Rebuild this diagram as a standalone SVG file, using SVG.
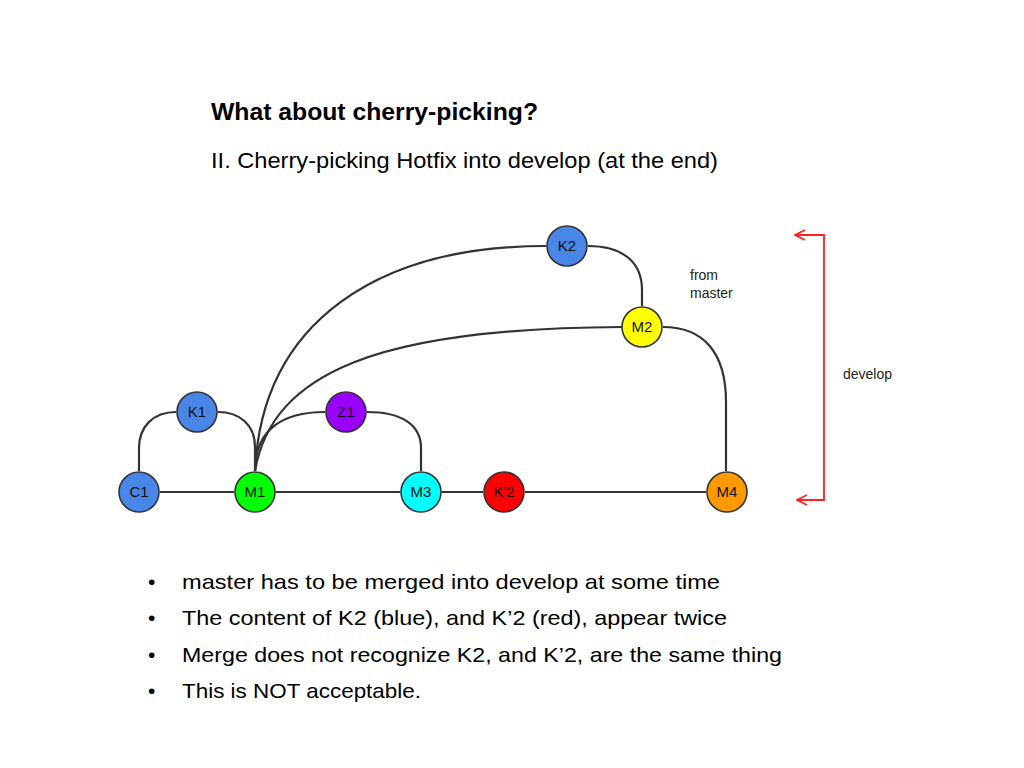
<svg xmlns="http://www.w3.org/2000/svg" width="1024" height="768" viewBox="0 0 1024 768">
<defs>
<style>
.n{stroke:#333;stroke-width:1.6}
.lbl{font-family:"Liberation Sans",Arial,sans-serif;font-size:15px;fill:#111;text-anchor:middle}
.e{fill:none;stroke:#333;stroke-width:2.2}
.t{font-family:"Liberation Sans",Arial,sans-serif;fill:#000}
.note{font-family:"Liberation Sans",Arial,sans-serif;font-size:14px;fill:#222}
.br{fill:none;stroke:#ff2020;stroke-width:1.8}
</style>
<marker id="ah" viewBox="0 0 12 12" refX="11" refY="6" markerWidth="12" markerHeight="12" markerUnits="userSpaceOnUse" orient="auto-start-reverse">
<path d="M1,1 L11,6 L1,11" fill="none" stroke="#ff2020" stroke-width="1.8"/>
</marker>
</defs>
<rect width="1024" height="768" fill="#fff"/>
<g id="title">
<text class="t" x="211" y="120" font-size="23" font-weight="bold" textLength="327" lengthAdjust="spacingAndGlyphs">What about cherry-picking?</text>
<text class="t" x="211" y="168" font-size="22" textLength="507" lengthAdjust="spacingAndGlyphs">II. Cherry-picking Hotfix into develop (at the end)</text>
</g>
<g id="connectors">
<path class="e" d="M160,492 H234 M276,492 H400 M442,492 H483 M525,492 H706"/>
<path class="e" d="M139,471 V448 C139,427 153,412 176,412"/>
<path class="e" d="M218,412 C240,412 255,425 255,447 V471"/>
<path class="e" d="M255,471 C255,430 282,412 325,412"/>
<path class="e" d="M367,412 C402,412 421,425 421,448 V471"/>
<path class="e" d="M255,471 C262,320 380,246 546,246"/>
<path class="e" d="M255,471 C272,372 380,328 622,327"/>
<path class="e" d="M588,246 C625,246 642,264 642,290 V306"/>
<path class="e" d="M663,327 C703,327 726,352 726,402 V471"/>
</g>
<g id="bracket">
<path class="br" d="M795,235 H824 V500 H797" marker-start="url(#ah)" marker-end="url(#ah)"/>
</g>
<g id="C1"><circle class="n" cx="139" cy="492" r="20" fill="#4a86e8"/><text class="lbl" x="139" y="497">C1</text></g>
<g id="M1"><circle class="n" cx="255" cy="492" r="20" fill="#00ff00"/><text class="lbl" x="255" y="497">M1</text></g>
<g id="M3"><circle class="n" cx="421" cy="492" r="20" fill="#00ffff"/><text class="lbl" x="421" y="497">M3</text></g>
<g id="K2p"><circle class="n" cx="504" cy="492" r="20" fill="#ff0000"/><text class="lbl" x="504" y="497">K'2</text></g>
<g id="M4"><circle class="n" cx="727" cy="492" r="20" fill="#ff9900"/><text class="lbl" x="727" y="497">M4</text></g>
<g id="K1"><circle class="n" cx="197" cy="412" r="20" fill="#4a86e8"/><text class="lbl" x="197" y="417">K1</text></g>
<g id="Z1"><circle class="n" cx="346" cy="412" r="20" fill="#9900ff"/><text class="lbl" x="346" y="417">Z1</text></g>
<g id="K2"><circle class="n" cx="567" cy="246" r="20" fill="#4a86e8"/><text class="lbl" x="567" y="251">K2</text></g>
<g id="M2"><circle class="n" cx="642" cy="327" r="20" fill="#ffff00"/><text class="lbl" x="642" y="332">M2</text></g>
<g id="labels">
<text class="note" x="690" y="280">from</text>
<text class="note" x="690" y="298">master</text>
<text class="note" x="843" y="379">develop</text>
</g>
<g id="bullets" class="t" font-size="21">
<text x="148" y="589">•</text>
<text x="182" y="589" textLength="538" lengthAdjust="spacingAndGlyphs">master has to be merged into develop at some time</text>
<text x="148" y="625">•</text>
<text x="182" y="625" textLength="545" lengthAdjust="spacingAndGlyphs">The content of K2 (blue), and K’2 (red), appear twice</text>
<text x="148" y="662">•</text>
<text x="182" y="662" textLength="600" lengthAdjust="spacingAndGlyphs">Merge does not recognize K2, and K’2, are the same thing</text>
<text x="148" y="698">•</text>
<text x="182" y="698" textLength="239" lengthAdjust="spacingAndGlyphs">This is NOT acceptable.</text>
</g>
</svg>
